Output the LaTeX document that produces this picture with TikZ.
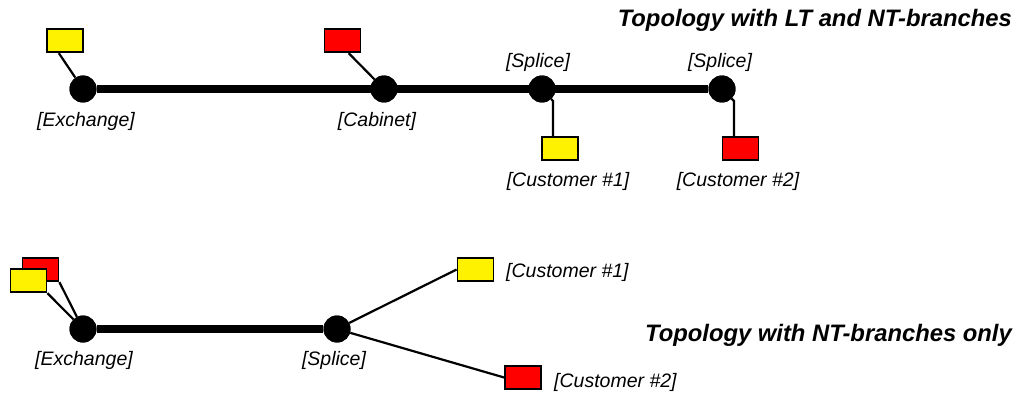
\documentclass[tikz,border=0pt]{standalone}
\usepackage{fontspec}
\setmainfont{Liberation Sans}
\begin{document}
\begin{tikzpicture}[x=1pt,y=-1pt,
  dot/.style={circle,fill=black,inner sep=0pt,minimum size=27pt},
  cbox/.style={draw=black,line width=1.8pt,inner sep=0pt,minimum width=36pt,minimum height=23.5pt},
  ybox/.style={cbox,fill=yellow},
  rbox/.style={cbox,fill=red},
  lbl/.style={inner sep=0pt,anchor=base,font=\fontsize{19.5}{23}\selectfont\itshape},
  ttl/.style={inner sep=0pt,anchor=base east,font=\fontsize{23.8}{28}\selectfont\bfseries\itshape},
  trunk/.style={line width=8pt},
  twig/.style={line width=2.2pt}]
\useasboundingbox (0,0) rectangle (1018,396);

% ---------- top diagram ----------
\node[ttl] (t1) at (1012,27) {Topology with LT and NT-branches};
\node[dot] (ex) at (83,89) {};
\node[dot] (cab) at (384,89) {};
\node[dot] (s1) at (542,89) {};
\node[dot] (s2) at (722,89) {};
\node[ybox] (yb1) at (65,40.5) {};
\node[rbox] (rb1) at (342.5,40.5) {};
\node[ybox] (c1) at (560,148.5) {};
\node[rbox] (c2) at (740.5,148.5) {};
\coordinate (k1) at (553,101);
\coordinate (k2) at (734,101);

\draw[trunk] (ex) -- (s2);
\draw[twig] (yb1.-116) -- (ex);
\draw[twig] (rb1.-64) -- (cab);
\draw[twig] (s1) -- (k1) -- (k1 |- c1.north);
\draw[twig] (s2) -- (k2) -- (k2 |- c2.north);
\node[dot] at (ex) {};
\node[dot] at (cab) {};
\node[dot] at (s1) {};
\node[dot] at (s2) {};
\node[ybox] at (yb1) {};
\node[rbox] at (rb1) {};
\node[ybox] at (c1) {};
\node[rbox] at (c2) {};

\node[lbl] (lex) at (86,126) {[Exchange]};
\node[lbl] (lcab) at (377,126) {[Cabinet]};
\node[lbl] (ls1) at (538,67) {[Splice]};
\node[lbl] (ls2) at (720,67) {[Splice]};
\node[lbl] (lc1) at (568,186) {[Customer \#1]};
\node[lbl] (lc2) at (738,186) {[Customer \#2]};

% ---------- bottom diagram ----------
\node[ttl] (t2) at (1012,341) {Topology with NT-branches only};
\node[dot] (bex) at (83,329) {};
\node[dot] (bs) at (337,329) {};
\node[rbox] (brb) at (40.5,269.5) {};
\node[ybox] (byb) at (28.5,280.5) {};
\node[ybox] (bc1) at (475.5,269.5) {};
\node[rbox] (bc2) at (523,377.5) {};

\draw[trunk] (bex) -- (bs);
\draw[twig] (brb.south east) -- (bex);
\draw[twig] (byb.south east) -- (bex);
\draw[twig] (bs) -- (bc1.west);
\draw[twig] (bs) -- (bc2.west);
\node[dot] at (bex) {};
\node[dot] at (bs) {};
\node[rbox] at (brb) {};
\node[ybox] at (byb) {};

\node[lbl] (blex) at (84,365) {[Exchange]};
\node[lbl] (bls) at (334,365) {[Splice]};
\node[lbl,anchor=base west] (blc1) at (506,277) {[Customer \#1]};
\node[lbl,anchor=base west] (blc2) at (554,387) {[Customer \#2]};
\end{tikzpicture}
\end{document}
